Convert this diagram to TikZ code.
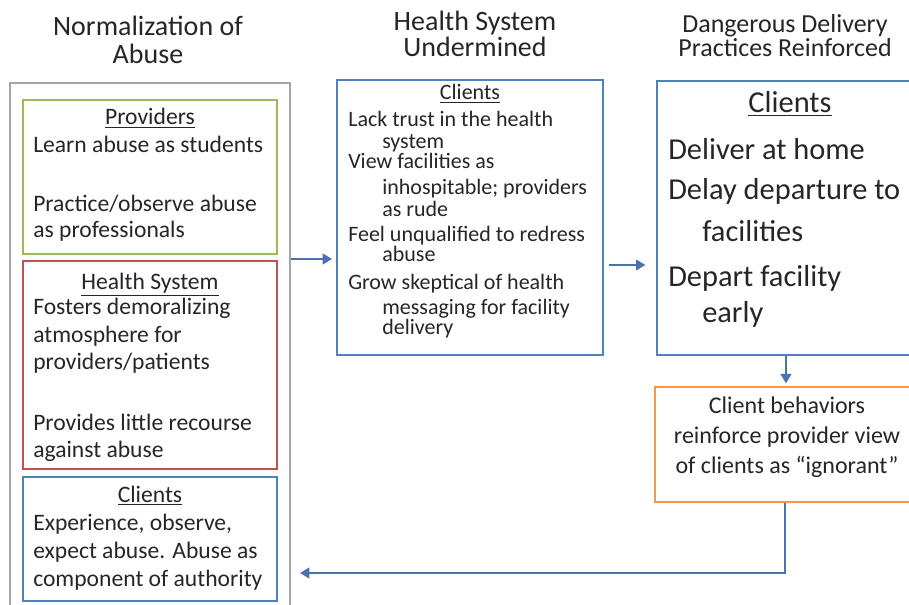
\documentclass[tikz,border=0pt]{standalone}
\usepackage{fontspec}
\setmainfont{Carlito}
\usetikzlibrary{arrows.meta,fit}
\definecolor{txt}{HTML}{262626}
\definecolor{cgreen}{HTML}{9BBB59}
\definecolor{cred}{HTML}{C0504D}
\definecolor{cblue}{HTML}{4F81BD}
\definecolor{corange}{HTML}{F79646}
\definecolor{cgray}{HTML}{A6A6A6}
\definecolor{carrow}{HTML}{4A72B0}
\newcommand\fHd{\fontsize{21}{23}\selectfont}
\newcommand\fHe{\fontsize{19.5}{22}\selectfont}
\newcommand\fA{\fontsize{17.7}{21}\selectfont}
\newcommand\fB{\fontsize{16.5}{18}\selectfont}
\newcommand\fC{\fontsize{22.8}{27}\selectfont}
\newcommand\fD{\fontsize{18}{22}\selectfont}
\begin{document}
\begin{tikzpicture}[x=0.75pt,y=-0.75pt,
  box/.style={draw, line width=1.5pt, inner sep=0pt},
  tl/.style={anchor=base west, inner sep=0pt, text=txt},
  tc/.style={anchor=base, inner sep=0pt, text=txt},
  arr/.style={draw=carrow, line width=1.5pt, -{Triangle[length=7pt,width=8pt]}}]
\useasboundingbox (0,0) rectangle (909,605);
\clip (0,0) rectangle (909,605);
\fill[white] (0,0) rectangle (909,605);

% boxes
\node[box, draw=cgray, line width=1pt, fit={(10,83) (290,607)}] (outer) {};
\node[box, draw=cgreen, fit={(23,100) (277,254)}] (prov) {};
\node[box, draw=cred, fit={(23,261) (277,469)}] (hs) {};
\node[box, draw=cblue, fit={(23,477) (277,601)}] (cl) {};
\node[box, draw=cblue, fit={(337,80) (603,355)}] (mid) {};
\node[box, draw=cblue, fit={(657,81) (915,355)}] (right) {};
\node[box, draw=corange, fit={(655,387) (915,502)}] (orange) {};

% headers
\node[tc, font=\fHd] (h1a) at (148,36) {Normalization of};
\node[tc, font=\fHd] (h1b) at (148,64) {Abuse};
\node[tc, font=\fHd] (h2a) at (475,31) {Health System};
\node[tc, font=\fHd] (h2b) at (475,57) {Undermined};
\node[tc, font=\fHe] (h3a) at (785,33) {Dangerous Delivery};
\node[tc, font=\fHe] (h3b) at (785,57) {Practices Reinforced};

% providers
\node[tc, font=\fA] (p0) at (150,125) {\underline{Providers}};
\node[tl, font=\fA] (p1) at (33,153) {Learn abuse as students};
\node[tl, font=\fA] (p2) at (33,212) {Practice/observe abuse};
\node[tl, font=\fA] (p3) at (33,238) {as professionals};

% health system
\node[tc, font=\fA] (s0) at (150,290) {\underline{Health System}};
\node[tl, font=\fA] (s1) at (33,315) {Fosters demoralizing};
\node[tl, font=\fA] (s2) at (33,343) {atmosphere for};
\node[tl, font=\fA] (s3) at (33,370) {providers/patients};
\node[tl, font=\fA] (s4) at (33,430) {Provides little recourse};
\node[tl, font=\fA] (s5) at (33,457) {against abuse};

% clients (left)
\node[tc, font=\fA] (c0) at (150,502) {\underline{Clients}};
\node[tl, font=\fA] (c1) at (33,530) {Experience, observe,};
\node[tl, font=\fA] (c2) at (33,558) {expect abuse. Abuse as};
\node[tl, font=\fA] (c3) at (33,586) {component of authority};

% middle
\node[tc, font=\fB] (m0) at (470,100) {\underline{Clients}};
\node[tl, font=\fB] (m1) at (348,127) {Lack trust in the health};
\node[tl, font=\fB] (m2) at (382,149) {system};
\node[tl, font=\fB] (m3) at (348,169) {View facilities as};
\node[tl, font=\fB] (m4) at (382,195) {inhospitable; providers};
\node[tl, font=\fB] (m5) at (382,217) {as rude};
\node[tl, font=\fB] (m6) at (348,242) {Feel unqualified to redress};
\node[tl, font=\fB] (m7) at (382,262) {abuse};
\node[tl, font=\fB] (m8) at (348,290) {Grow skeptical of health};
\node[tl, font=\fB] (m9) at (382,315) {messaging for facility};
\node[tl, font=\fB] (m10) at (382,335) {delivery};

% right
\node[tc, font=\fC] (r0) at (790,113) {\underline{Clients}};
\node[tl, font=\fC] (r1) at (668,160) {Deliver at home};
\node[tl, font=\fC] (r2) at (668,200) {Delay departure to};
\node[tl, font=\fC] (r3) at (702,242) {facilities};
\node[tl, font=\fC] (r4) at (668,287) {Depart facility};
\node[tl, font=\fC] (r5) at (702,323) {early};

% orange
\node[tc, font=\fD] (o1) at (787,413) {Client behaviors};
\node[tc, font=\fD] (o2) at (787,443) {reinforce provider view};
\node[tc, font=\fD] (o3) at (787,473) {of clients as “ignorant”};

% connectors
\coordinate (ya) at (0,259);
\coordinate (yb) at (0,265);
\coordinate (fb) at (300,573);
\draw[arr, shorten >=3pt] (outer.east |- ya) -- (mid.west |- ya);
\draw[arr, shorten <=4pt, shorten >=8pt] (mid.east |- yb) -- (right.west |- yb);
\draw[arr, shorten >=2pt] (right.south) -- (orange.north -| right.south);
\draw[arr] (orange.south) |- (fb);
\end{tikzpicture}
\end{document}
